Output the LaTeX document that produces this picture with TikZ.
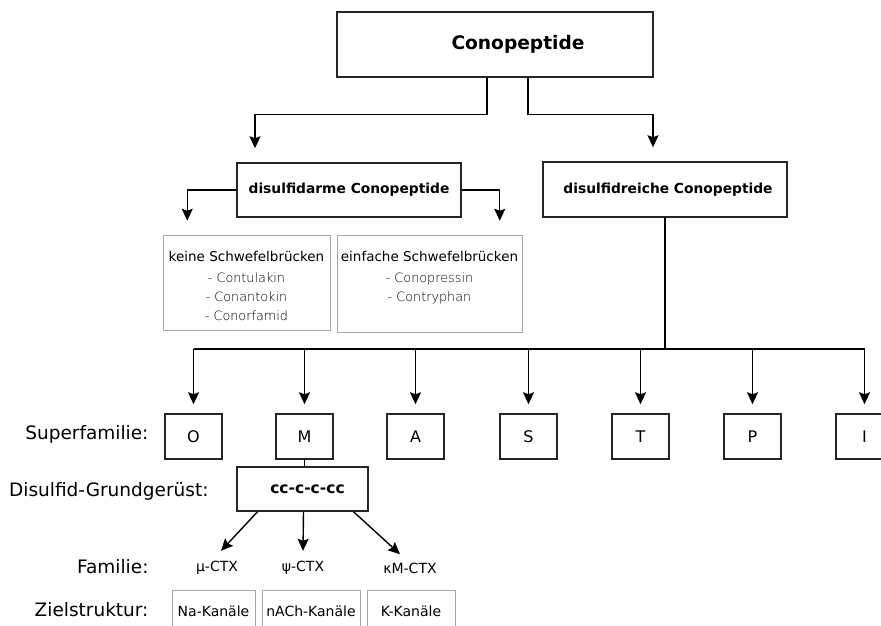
\documentclass[tikz,border=0pt]{standalone}
\usepackage{fontspec}
\setmainfont{DejaVu Sans}
\newfontfamily\lightfont{DejaVuSans-ExtraLight.ttf}
\usetikzlibrary{arrows.meta}
\newcommand{\fs}[1]{\fontsize{#1}{1.2\dimexpr#1pt\relax}\selectfont}
\begin{document}
\begin{tikzpicture}[x=1pt,y=-1pt,
    box/.style={draw=black!85,line width=1.5pt,inner sep=0pt},
    graybox/.style={draw=black!35,line width=0.8pt,inner sep=0pt},
    graytext/.style={anchor=north,align=center,inner sep=0pt,font=\lightfont\fontsize{12.8}{19}\selectfont},
    famb/.style={box,minimum width=57pt,minimum height=45pt,font=\fs{16}},
    lbl/.style={anchor=east,font=\fs{18.5}},
    arr/.style={line width=1.4pt,-{Stealth[length=12pt,width=11pt,inset=2pt]}},
    line/.style={line width=1.4pt}]
    \useasboundingbox (0,0) rectangle (881,625);
    \clip (0,0) rectangle (881,625);
    \node[box,minimum width=316pt,minimum height=65pt,font=\bfseries\fs{18.6}] (cono) at (495,44.5) {\hspace*{46pt}Conopeptide};
    \node[box,minimum width=224pt,minimum height=54pt,font=\bfseries\fs{13.8}] (arm) at (349,190) {disulfidarme Conopeptide};
    \node[box,minimum width=244pt,minimum height=55pt,font=\bfseries\fs{13.8}] (rich) at (665,189.5) {\hspace*{6pt}disulfidreiche Conopeptide};
    \draw[arr] ([xshift=-8pt]cono.south) -- ++(0,37) -| ([xshift=-94pt,yshift=14pt]arm.north);
    \draw[arr] ([xshift=33pt]cono.south) -- ++(0,37) -| ([xshift=-12pt,yshift=14pt]rich.north);
    \draw[arr] (arm.west) -| ([xshift=-49pt,yshift=-3pt]arm.south west);
    \draw[arr] (arm.east) -| ([xshift=38pt,yshift=-3pt]arm.south east);
    \node[graybox,minimum width=167pt,minimum height=95pt] (keine) at (246.5,282.5) {};
    \node[graybox,minimum width=185pt,minimum height=97pt] (einf) at (429.5,283.5) {};
    \node[graytext] (keinetxt) at ([yshift=-16pt]keine.north)
        {{\normalfont\fs{13.5}keine Schwefelbrücken}\\[2pt] - Contulakin\\ - Conantokin\\ - Conorfamid};
    \node[graytext] (einftxt) at ([yshift=-16pt]einf.north)
        {{\normalfont\fs{13.5}einfache Schwefelbrücken}\\[2pt] - Conopressin\\ - Contryphan};
    \coordinate (bus) at (665,349);
    \foreach \n/\x in {O/193.5,M/304.5,A/415.5,S/528.5,T/640.5,P/752.5,I/864.5}
        {\node[famb] (sf\n) at (\x,436.5) {\n};
         \draw[arr] (sf\n |- bus) -- ([yshift=9pt]sf\n.north);
        }
    \draw[line] (rich.south) -- (bus);
    \draw[line] (sfO |- bus) -- (sfI |- bus);
    \node[box,minimum width=131pt,minimum height=44pt,font=\bfseries\fs{15.5}] (cc) at (302.5,489) {\hspace*{10pt}cc-c-c-cc};
    \draw[line] (sfM.south) -- (sfM.south |- cc.north);
    \node[font=\fs{14}] (mu) at (217,568) {μ-CTX};
    \node[font=\fs{14}] (psi) at (303,568) {ψ-CTX};
    \node[font=\fs{14}] (kappa) at (410,568) {κM-CTX};
    \draw[arr] ([xshift=-45pt]cc.south) -- ([xshift=4pt,yshift=7pt]mu.north);
    \draw[arr] ([xshift=1pt]cc.south) -- ([yshift=7pt]psi.north);
    \draw[arr] ([xshift=51pt]cc.south) -- ([xshift=-10pt,yshift=5pt]kappa.north);
    \node[graybox,minimum width=83pt,minimum height=46pt,font=\fs{14}] (na) at (213.5,613) {};
    \node[graybox,minimum width=98pt,minimum height=46pt,font=\fs{14}] (nach) at (311,613) {};
    \node[graybox,minimum width=88pt,minimum height=46pt,font=\fs{14}] (kk) at (411,613) {};
    \node[font=\fs{14}] (natxt) at (na |- 0,611) {Na-Kanäle};
    \node[font=\fs{14}] (nachtxt) at (nach |- 0,611) {nACh-Kanäle};
    \node[font=\fs{14}] (kktxt) at (kk |- 0,611) {K-Kanäle};
    \node[lbl] (lsf) at (152,434) {Superfamilie:};
    \node[lbl] (ldg) at (212,491) {Disulfid-Grundgerüst:};
    \node[lbl] (lfam) at (152,567) {Familie:};
    \node[lbl] (lziel) at (152,610) {Zielstruktur:};
\end{tikzpicture}
\end{document}
